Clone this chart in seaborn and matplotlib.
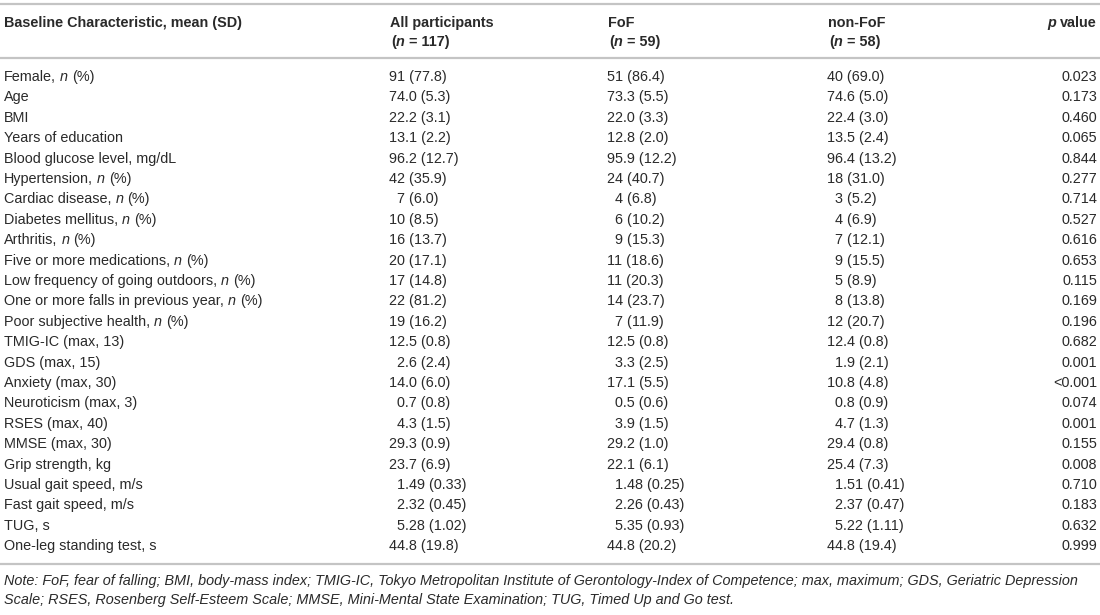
import matplotlib
matplotlib.use("Agg")
import matplotlib.pyplot as plt
import seaborn as sns
import numpy as np
import pandas as pd

# ---------------- data ----------------
first_header = "Baseline Characteristic, mean (SD)"
col_headers = ["All participants", "FoF", "non-FoF"]
col_ns = ["117", "59", "58"]

labels = [
    "Female, n (%)", "Age", "BMI", "Years of education", "Blood glucose level, mg/dL",
    "Hypertension, n (%)", "Cardiac disease, n (%)", "Diabetes mellitus, n (%)",
    "Arthritis, n (%)", "Five or more medications, n (%)",
    "Low frequency of going outdoors, n (%)", "One or more falls in previous year, n (%)",
    "Poor subjective health, n (%)", "TMIG-IC (max, 13)", "GDS (max, 15)",
    "Anxiety (max, 30)", "Neuroticism (max, 3)", "RSES (max, 40)", "MMSE (max, 30)",
    "Grip strength, kg", "Usual gait speed, m/s", "Fast gait speed, m/s", "TUG, s",
    "One-leg standing test, s",
]
all_vals = [
    "91 (77.8)", "74.0 (5.3)", "22.2 (3.1)", "13.1 (2.2)", "96.2 (12.7)", "42 (35.9)",
    "7 (6.0)", "10 (8.5)", "16 (13.7)", "20 (17.1)", "17 (14.8)", "22 (81.2)", "19 (16.2)",
    "12.5 (0.8)", "2.6 (2.4)", "14.0 (6.0)", "0.7 (0.8)", "4.3 (1.5)", "29.3 (0.9)",
    "23.7 (6.9)", "1.49 (0.33)", "2.32 (0.45)", "5.28 (1.02)", "44.8 (19.8)",
]
fof_vals = [
    "51 (86.4)", "73.3 (5.5)", "22.0 (3.3)", "12.8 (2.0)", "95.9 (12.2)", "24 (40.7)",
    "4 (6.8)", "6 (10.2)", "9 (15.3)", "11 (18.6)", "11 (20.3)", "14 (23.7)", "7 (11.9)",
    "12.5 (0.8)", "3.3 (2.5)", "17.1 (5.5)", "0.5 (0.6)", "3.9 (1.5)", "29.2 (1.0)",
    "22.1 (6.1)", "1.48 (0.25)", "2.26 (0.43)", "5.35 (0.93)", "44.8 (20.2)",
]
nonfof_vals = [
    "40 (69.0)", "74.6 (5.0)", "22.4 (3.0)", "13.5 (2.4)", "96.4 (13.2)", "18 (31.0)",
    "3 (5.2)", "4 (6.9)", "7 (12.1)", "9 (15.5)", "5 (8.9)", "8 (13.8)", "12 (20.7)",
    "12.4 (0.8)", "1.9 (2.1)", "10.8 (4.8)", "0.8 (0.9)", "4.7 (1.3)", "29.4 (0.8)",
    "25.4 (7.3)", "1.51 (0.41)", "2.37 (0.47)", "5.22 (1.11)", "44.8 (19.4)",
]
p_values = [
    "0.023", "0.173", "0.460", "0.065", "0.844", "0.277", "0.714", "0.527", "0.616",
    "0.653", "0.115", "0.169", "0.196", "0.682", "0.001", "<0.001", "0.074", "0.001",
    "0.155", "0.008", "0.710", "0.183", "0.632", "0.999",
]
note_lines = [
    "Note: FoF, fear of falling; BMI, body-mass index; TMIG-IC, Tokyo Metropolitan Institute of "
    "Gerontology-Index of Competence; max, maximum; GDS, Geriatric Depression",
    "Scale; RSES, Rosenberg Self-Esteem Scale; MMSE, Mini-Mental State Examination; TUG, Timed Up and Go test.",
]

df = pd.DataFrame({"label": labels, "all": all_vals, "fof": fof_vals,
                   "nonfof": nonfof_vals, "p": p_values})

# ---------------- style ----------------
sns.set_theme(style="white")
plt.rcParams["font.family"] = ["Liberation Sans", "DejaVu Sans"]

W, H = 1100, 615
FS = 10.35
TXT = "#2a2a2a"
RULE = "#c4c4c4"

fig = plt.figure(figsize=(W / 100, H / 100), dpi=100)
ax = fig.add_axes([0, 0, 1, 1])
ax.set_xlim(0, W)
ax.set_ylim(H, 0)
ax.axis("off")
renderer = fig.canvas.get_renderer()


def seg_width(s, **kw):
    a = ax.text(0, 0, "|" + s + "|", **kw)
    b = ax.text(0, 0, "||", **kw)
    w = a.get_window_extent(renderer).width - b.get_window_extent(renderer).width
    a.remove()
    b.remove()
    return w


def rich(x, y, segs, ha="left", size=FS, color=TXT):
    kws = [dict(fontsize=size, fontstyle=st, fontweight=wt) for _, st, wt in segs]
    widths = [seg_width(s, **kw) for (s, _, _), kw in zip(segs, kws)]
    if ha == "right":
        x -= sum(widths)
    for (s, _, _), kw, w in zip(segs, kws, widths):
        lead = len(s) - len(s.lstrip(" "))
        dx = seg_width(" " * lead, **kw) if lead else 0
        ax.text(x + dx, y, s.lstrip(" "), color=color, va="baseline", ha="left", **kw)
        x += w


def label_segs(lbl):
    suffix = ", n (%)"
    if lbl.endswith(suffix):
        return [(lbl[:-len(suffix)] + ",", "normal", "normal"), (" n", "italic", "normal"),
                (" (%)", "normal", "normal")]
    return [(lbl, "normal", "normal")]


BASE = 5          # baseline offset from visual line centre
x_label = 4
col_x = [389, 607, 827]
x_p = 1097
y_head1, y_head2 = 22, 41
y_row0, row_h = 76, 20.4
rule_top, rule_mid, rule_bot = 4.3, 58.3, 564
y_note = [580, 599]

# rules
for yr in (rule_top, rule_mid, rule_bot):
    ax.plot([0, W], [yr, yr], color=RULE, lw=1.6, solid_capstyle="butt")

# header
rich(x_label, y_head1 + BASE, [(first_header, "normal", "bold")])
for cx, name, n in zip(col_x, col_headers, col_ns):
    rich(cx + 1, y_head1 + BASE, [(name, "normal", "bold")])
    rich(cx + 2, y_head2 + BASE, [("(", "normal", "bold"), ("n", "italic", "bold"),
                                  (" = " + n + ")", "normal", "bold")])
rich(x_p, y_head1 + BASE, [("p", "italic", "bold"), (" value", "normal", "bold")], ha="right")

# body
digit_w = seg_width("0", fontsize=FS)
for i, row in df.iterrows():
    y = y_row0 + i * row_h + BASE
    rich(x_label, y, label_segs(row["label"]))
    for cx, key in zip(col_x, ["all", "fof", "nonfof"]):
        v = row[key]
        int_part = v.split(" ")[0].split(".")[0]
        off = digit_w if len(int_part) == 1 else 0
        rich(cx + off, y, [(v, "normal", "normal")])
    rich(x_p, y, [(row["p"], "normal", "normal")], ha="right")

# notes
for yn, line in zip(y_note, note_lines):
    rich(x_label, yn + BASE, [(line, "italic", "normal")])

fig.savefig("out.png", dpi=100)
